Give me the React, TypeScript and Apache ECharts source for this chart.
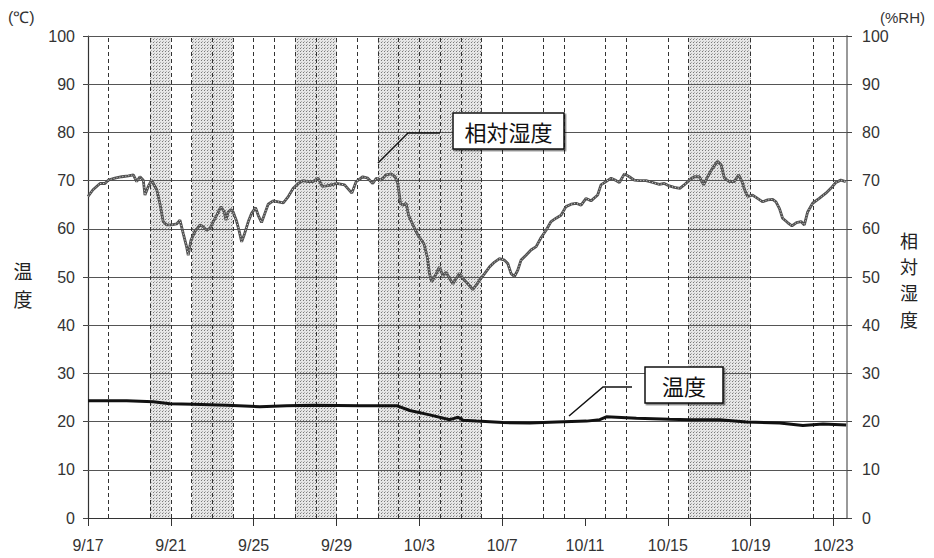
import React, { useEffect, useRef } from "react";
import * as echarts from "echarts";

const tickLabels = ["9/17", "9/21", "9/25", "9/29", "10/3", "10/7", "10/11", "10/15", "10/19", "10/23"];
// days counted from 9/17
const dashedDays = [1, 3, 4, 5, 6, 7, 8, 9, 10, 11, 12, 13, 14, 15, 16, 17, 18, 19, 20, 22, 23, 25, 26, 28, 29, 32, 35, 36];
const shadeStart = [3, 5, 10, 14, 29];
const shadeEnd = [4, 7, 12, 19, 32];
const gridValues = [10, 20, 30, 40, 50, 60, 70, 80, 90, 100];
const leftName = ["温", "度"];
const rightName = ["相", "対", "湿", "度"];

const humDays = [
  0.0, 0.24, 0.58, 0.82, 0.98, 1.3, 1.63, 1.95, 2.19, 2.35, 2.51, 2.67, 2.75, 2.91, 3.07, 3.15, 3.32, 3.47, 3.63, 3.8,
  4.04, 4.28, 4.44, 4.52, 4.6, 4.76, 4.84, 4.97, 5.16, 5.41, 5.57, 5.73, 5.89, 6.05, 6.21, 6.42, 6.58, 6.66, 6.77, 6.9,
  7.01, 7.18, 7.29, 7.42, 7.54, 7.74, 7.9, 8.09, 8.22, 8.38, 8.54, 8.7, 8.94, 9.19, 9.43, 9.67, 9.91, 10.15, 10.39, 10.63,
  10.87, 11.11, 11.31, 11.52, 11.76, 12.0, 12.39, 12.74, 12.95, 13.27, 13.51, 13.75, 13.92, 14.16, 14.4, 14.64, 14.83, 14.96, 15.09, 15.2,
  15.36, 15.48, 15.69, 15.93, 16.22, 16.38, 16.49, 16.6, 16.77, 16.97, 17.13, 17.29, 17.46, 17.62, 17.78, 17.94, 18.1, 18.34, 18.58, 18.74,
  18.9, 19.15, 19.39, 19.63, 19.87, 20.11, 20.27, 20.43, 20.59, 20.75, 20.91, 21.15, 21.39, 21.64, 21.88, 22.12, 22.36, 22.6, 22.84, 23.08,
  23.33, 23.57, 23.81, 24.05, 24.29, 24.61, 24.77, 25.01, 25.26, 25.5, 25.66, 25.9, 26.14, 26.38, 26.62, 26.95, 27.27, 27.59, 27.83, 28.07,
  28.31, 28.58, 28.79, 29.04, 29.28, 29.52, 29.73, 29.92, 30.16, 30.4, 30.57, 30.73, 30.97, 31.21, 31.42, 31.58, 31.74, 31.85, 32.09, 32.33,
  32.58, 32.82, 33.06, 33.22, 33.39, 33.54, 33.78, 33.99, 34.21, 34.43, 34.59, 34.75, 34.99, 35.31, 35.63, 35.87, 36.11, 36.35, 36.59,
];
const humValues = [
  66.7, 68.1, 69.4, 69.4, 70.1, 70.5, 70.8, 71.0, 71.2, 69.8, 70.8, 70.1, 67.0, 68.8, 70.1, 69.4, 68.1, 65.3, 61.5, 60.8,
  60.8, 61.0, 61.8, 60.4, 59.0, 56.3, 54.5, 57.6, 59.4, 60.8, 60.4, 59.7, 60.1, 61.5, 62.8, 64.6, 63.5, 61.8, 63.5, 64.0,
  63.5, 61.5, 59.7, 57.3, 58.7, 61.5, 63.2, 64.4, 62.8, 61.3, 63.2, 65.1, 65.8, 65.6, 65.4, 66.7, 68.4, 69.4, 70.0, 69.8,
  69.8, 70.5, 68.8, 68.9, 69.1, 69.4, 69.1, 67.4, 69.8, 70.8, 70.5, 69.4, 70.5, 70.1, 71.2, 71.4, 70.8, 69.4, 65.3, 64.9,
  65.3, 62.8, 60.8, 58.7, 56.9, 54.2, 50.7, 49.0, 50.3, 52.1, 50.3, 51.0, 49.7, 48.6, 49.7, 50.8, 49.7, 48.6, 47.4, 48.3,
  49.3, 50.7, 52.1, 53.1, 53.8, 53.5, 52.8, 50.7, 50.1, 51.4, 53.5, 54.5, 55.6, 56.3, 58.2, 59.7, 61.5, 62.2, 62.8, 64.6,
  65.1, 65.3, 64.9, 66.3, 65.8, 67.0, 69.1, 69.8, 70.5, 70.0, 69.6, 71.4, 70.8, 70.1, 70.0, 70.0, 69.6, 69.2, 69.4, 68.9,
  68.6, 68.4, 69.1, 70.1, 70.8, 70.8, 69.1, 70.8, 72.6, 74.0, 73.3, 70.5, 69.8, 69.8, 71.2, 69.8, 67.7, 66.7, 67.0, 66.3,
  65.6, 66.0, 66.1, 65.6, 64.2, 62.2, 61.3, 60.6, 61.3, 61.5, 60.8, 63.5, 65.3, 66.3, 67.4, 68.4, 69.6, 70.1, 69.8,
];

const tempDays = [
  0, 1.87, 3.15, 3.96, 5.07, 6.7, 8.3, 9.59, 10.87, 13.13, 14.9, 15.54, 16.5, 17.47, 17.87, 18.1, 18.76, 20.04, 21.33, 22.62,
  24.07, 24.71, 25.03, 26.48, 28.09, 29.05, 30.5, 31.79, 33.4, 34.52, 35.49, 36.61,
];
const tempValues = [
  24.3, 24.3, 24.1, 23.7, 23.6, 23.4, 23.1, 23.3, 23.4, 23.3, 23.3, 22.3, 21.4, 20.4, 20.9, 20.3, 20.1, 19.8, 19.7, 19.9,
  20.1, 20.4, 21.0, 20.7, 20.5, 20.4, 20.4, 19.9, 19.7, 19.2, 19.5, 19.3,
];

const FONT = '"Liberation Sans", Arial, sans-serif';
const JP = '"Noto Sans CJK JP", sans-serif';

export default function App() {
  const ref = useRef<HTMLDivElement>(null);
  useEffect(() => {
    if (!ref.current) return;
    const chart = echarts.init(ref.current, null, { renderer: "svg" });

    const cv = document.createElement("canvas");
    cv.width = 3;
    cv.height = 3;
    const ctx = cv.getContext("2d");
    let shadeFill: any = "#d8d8d8";
    if (ctx) {
      ctx.fillStyle = "#e6e6e6";
      ctx.fillRect(0, 0, 3, 3);
      ctx.fillStyle = "#7a7a7a";
      ctx.fillRect(0, 0, 1, 1);
      ctx.fillStyle = "#b0b0b0";
      ctx.fillRect(1, 2, 1, 1);
      shadeFill = { image: cv, repeat: "repeat" };
    }

    const hum = humDays.map((d, i) => [d, humValues[i]]);
    const temp = tempDays.map((d, i) => [d, tempValues[i]]);

    const yAxisBase = {
      type: "value",
      min: 0,
      max: 100,
      interval: 10,
      splitLine: { show: false },
      axisTick: { show: true, inside: false, length: 5, lineStyle: { color: "#444", width: 1 } },
      axisLabel: { fontFamily: FONT, fontSize: 16, color: "#333" },
    };

    const graphics: any[] = [
      { type: "text", left: 8, top: 9, style: { text: "(℃)", fontFamily: FONT, fontSize: 16, fill: "#333" } },
      { type: "text", left: 880, top: 10, style: { text: "(%RH)", fontFamily: FONT, fontSize: 15, fill: "#333" } },
      ...leftName.map((c, i) => ({
        type: "text",
        x: 23,
        y: 270 + i * 28,
        style: { text: c, fontFamily: JP, fontSize: 19, fill: "#222", align: "center", verticalAlign: "middle" },
      })),
      ...rightName.map((c, i) => ({
        type: "text",
        x: 909,
        y: 240 + i * 26.2,
        style: { text: c, fontFamily: JP, fontSize: 18, fill: "#222", align: "center", verticalAlign: "middle" },
      })),
      {
        type: "polyline",
        shape: { points: [[378, 163], [408, 133], [440, 133]] },
        style: { stroke: "#111", lineWidth: 1.5, fill: null },
        z: 20,
      },
      {
        type: "rect",
        shape: { x: 453, y: 113, width: 111, height: 36 },
        style: { fill: "#fff", stroke: "#111", lineWidth: 1.5, shadowColor: "rgba(0,0,0,0.5)", shadowOffsetX: 1.5, shadowOffsetY: 1.5 },
        z: 20,
      },
      {
        type: "text",
        x: 508.5,
        y: 131,
        style: { text: "相対湿度", fontFamily: JP, fontSize: 22, fill: "#111", align: "center", verticalAlign: "middle" },
        z: 21,
      },
      {
        type: "polyline",
        shape: { points: [[569, 416], [603, 387], [632, 387]] },
        style: { stroke: "#111", lineWidth: 1.5, fill: null },
        z: 20,
      },
      {
        type: "rect",
        shape: { x: 645, y: 367, width: 78, height: 36 },
        style: { fill: "#fff", stroke: "#111", lineWidth: 1.5, shadowColor: "rgba(0,0,0,0.5)", shadowOffsetX: 1.5, shadowOffsetY: 1.5 },
        z: 20,
      },
      {
        type: "text",
        x: 684,
        y: 385,
        style: { text: "温度", fontFamily: JP, fontSize: 22, fill: "#111", align: "center", verticalAlign: "middle" },
        z: 21,
      },
    ];

    chart.setOption({
      animation: false,
      grid: { left: 88, right: 87, top: 36, bottom: 40, containLabel: false },
      xAxis: {
        type: "value",
        min: 0,
        max: 36.65,
        interval: 4,
        splitLine: { show: false },
        axisLine: { show: true, lineStyle: { color: "#333", width: 1.2 } },
        axisTick: { show: true, length: 8, lineStyle: { color: "#333", width: 1 } },
        axisLabel: {
          fontFamily: FONT,
          fontSize: 16,
          color: "#333",
          margin: 19,
          showMaxLabel: false,
          formatter: (v: number) => {
            const k = v / 4;
            return Number.isInteger(k) && tickLabels[k] ? tickLabels[k] : "";
          },
        },
      },
      yAxis: [
        {
          ...yAxisBase,
          position: "left",
          axisLine: { show: true, lineStyle: { color: "#333", width: 1.2 } },
          axisLabel: { ...yAxisBase.axisLabel, margin: 13 },
        },
        {
          ...yAxisBase,
          position: "right",
          axisLine: { show: true, lineStyle: { color: "#999", width: 2 } },
          axisLabel: { ...yAxisBase.axisLabel, margin: 15 },
        },
      ],
      series: [
        {
          type: "line",
          data: temp,
          symbol: "none",
          silent: true,
          lineStyle: { opacity: 0 },
          markArea: {
            silent: true,
            itemStyle: { color: shadeFill },
            data: shadeStart.map((s, i) => [{ xAxis: s }, { xAxis: shadeEnd[i] }]),
          },
          markLine: {
            silent: true,
            symbol: ["none", "none"],
            label: { show: false },
            data: [
              ...gridValues.map((v) => ({ yAxis: v, lineStyle: { type: "solid", color: "#555", width: 1 } })),
              ...dashedDays.map((d) => ({ xAxis: d, lineStyle: { type: [4, 3], color: "#333", width: 1 } })),
            ],
          },
        },
        {
          name: "相対湿度",
          type: "line",
          data: hum,
          symbol: "none",
          lineStyle: { color: "#505050", width: 2.8 },
          z: 6,
        },
        {
          type: "line",
          data: hum,
          symbol: "none",
          lineStyle: { color: "#ffffff", width: 0.8, type: [1, 2] },
          z: 7,
        },
        {
          name: "温度",
          type: "line",
          data: temp,
          symbol: "none",
          lineStyle: { color: "#111", width: 3 },
          z: 8,
        },
      ],
      graphic: graphics,
    });
    return () => chart.dispose();
  }, []);
  return <div ref={ref} style={{ width: 934, height: 558, position: "absolute", left: 0, top: 0 }} />;
}
